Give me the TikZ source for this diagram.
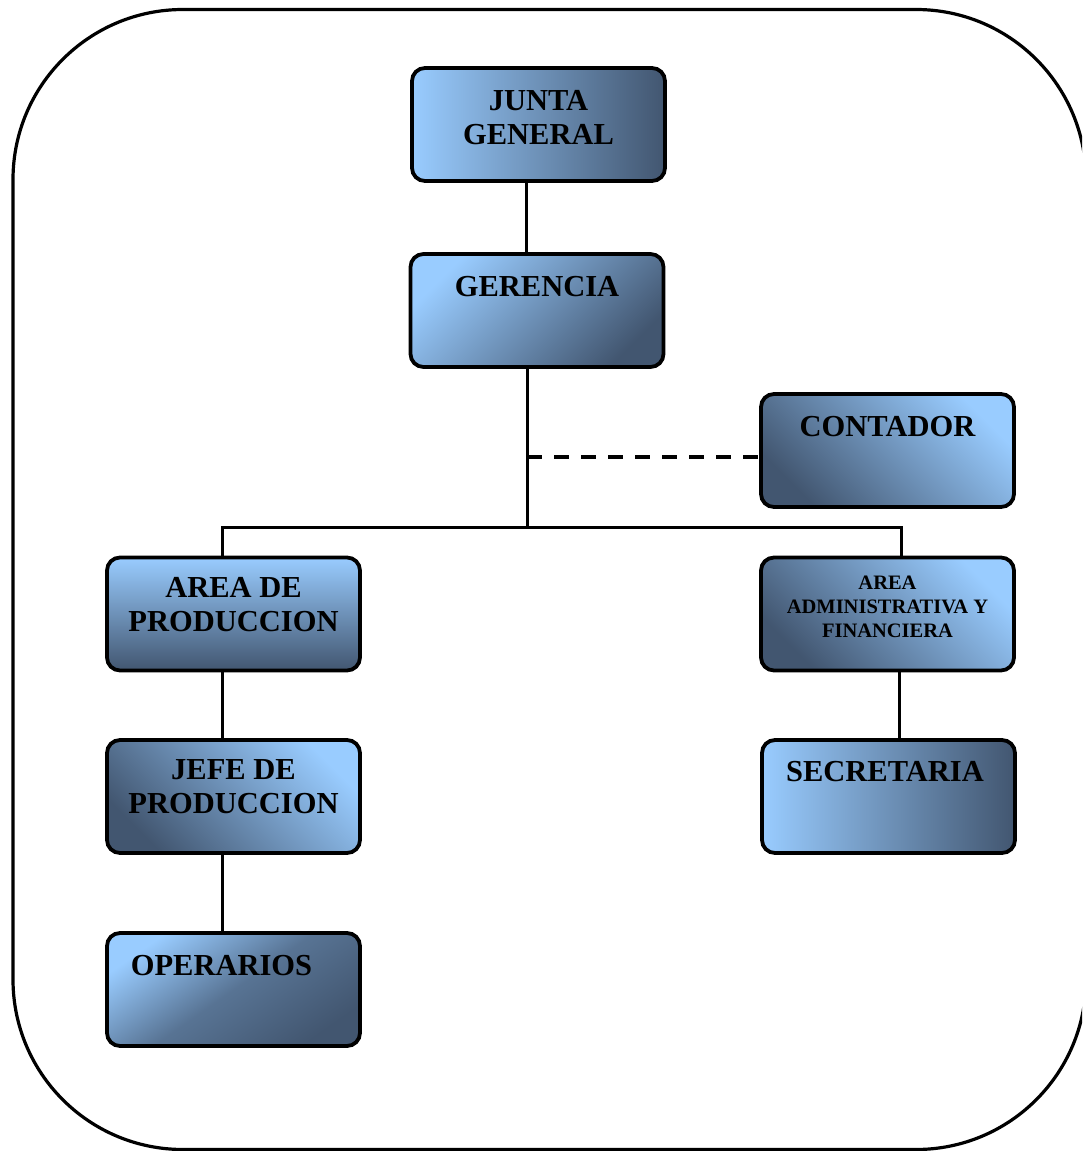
\documentclass[tikz,border=0pt]{standalone}
\usepackage{fontspec}
\setmainfont{Liberation Serif}
\definecolor{lb}{RGB}{153,204,255}
\definecolor{db}{RGB}{66,86,112}
\tikzset{
 orgbox/.style={draw=black, line width=3.8pt, rounded corners=13pt, minimum width=253pt, minimum height=113pt, inner sep=0pt},
 lbl/.style={inner sep=0pt, align=center, font=\fontsize{30.5}{34}\selectfont\bfseries},
 lblsmall/.style={inner sep=0pt, align=center, font=\fontsize{20.5}{24}\selectfont\bfseries},
 link/.style={line width=3pt},
 dashlink/.style={line width=3.5pt, dash pattern=on 15pt off 12pt},
 frame/.style={line width=3.2pt, rounded corners=170pt},
 gh/.style={left color=lb, right color=db},
 gv/.style={top color=lb, bottom color=db},
 gtl/.style={top color=lb, bottom color=db, shading angle=45},
 gtr/.style={top color=lb, bottom color=db, shading angle=-45},
 gop/.style={top color=lb, bottom color=db, middle color=db!75!lb, shading angle=35},
}
\begin{document}
\begin{tikzpicture}[x=1pt,y=-1pt]
\useasboundingbox (0,0) rectangle (1082,1151);
\begin{scope}
\clip (0,0) rectangle (1082,1151);
\draw[frame] (13,9.5) rectangle (1086,1149.5);
\end{scope}

\node[orgbox, gh]  (junta)      at (538.5,124.5) {};
\node[orgbox, gtl] (gerencia)   at (537,310.5) {};
\node[orgbox, gtr] (contador)   at (887.5,450.5) {};
\node[orgbox, gv]  (areaprod)   at (233.5,614) {};
\node[orgbox, gtr] (areaadm)    at (887.5,614) {};
\node[orgbox, gtr] (jefe)       at (233.5,796.5) {};
\node[orgbox, gh]  (secretaria) at (888.5,796.5) {};
\node[orgbox, gop] (operarios)  at (233.5,989.5) {};

\node[lbl] (tjunta) at (538.5,117.5) {JUNTA\\GENERAL};
\node[lbl] (tgerencia) at (537,287) {GERENCIA};
\node[lbl] (tcontador) at (887.5,427) {CONTADOR};
\node[lbl] (tareaprod) at (233.5,604.5) {AREA DE\\PRODUCCION};
\node[lblsmall] (tareaadm) at (887.5,607) {AREA\\ADMINISTRATIVA Y\\FINANCIERA};
\node[lbl] (tjefe) at (233.5,786.5) {JEFE DE\\PRODUCCION};
\node[lbl] (tsecretaria) at (885,772) {SECRETARIA};
\node[lbl] (toperarios) at (221.5,966) {OPERARIOS};

\coordinate (js) at ([xshift=-12.5pt]junta.south);
\draw[link] (js) -- (js |- gerencia.north);

\coordinate (gs) at ([xshift=-10pt]gerencia.south);
\coordinate (bus) at (gs |- 0,527);
\coordinate (dashc) at (gs |- 0,457);
\draw[link] (gs) -- (bus);
\draw[dashlink] (dashc) -- (dashc -| contador.west);

\coordinate (apn) at ([xshift=-11.5pt]areaprod.north);
\coordinate (aan) at ([xshift=13.5pt]areaadm.north);
\draw[link] (apn) |- (aan |- bus) -- (aan);

\coordinate (aps) at ([xshift=-11pt]areaprod.south);
\draw[link] (aps) -- (aps |- jefe.north);
\coordinate (jfs) at ([xshift=-11.5pt]jefe.south);
\draw[link] (jfs) -- (jfs |- operarios.north);
\coordinate (aas) at ([xshift=11.5pt]areaadm.south);
\draw[link] (aas) -- ([yshift=-4pt]aas |- secretaria.north);
\end{tikzpicture}
\end{document}
